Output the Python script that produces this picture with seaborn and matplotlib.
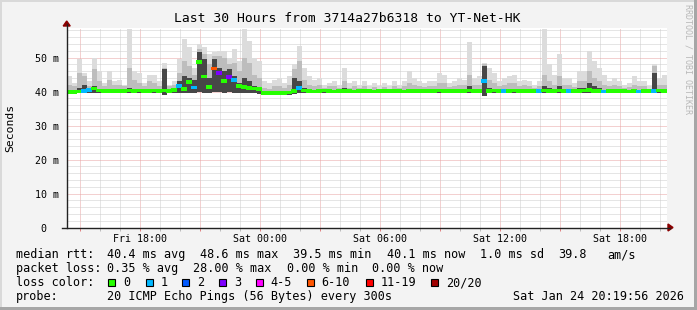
import numpy as np
import pandas as pd
import matplotlib
matplotlib.use("Agg")
import matplotlib.pyplot as plt
import matplotlib.dates as mdates
from matplotlib.ticker import MultipleLocator, FuncFormatter
from matplotlib.patches import Polygon, Rectangle
from matplotlib.path import Path
import seaborn as sns

# ---------------- data (15-minute steps, 30 hours) ----------------
start_time = "2026-01-23 14:20"
n_steps = 120

median_ms = [
    39.9, 39.9, 40.0, 40.1, 40.4, 40.9, 40.3, 40.1, 40.2, 40.2,
    40.1, 40.2, 40.3, 40.2, 40.3, 40.2, 40.2, 40.3, 40.2, 40.3,
    40.1, 40.4, 41.6, 40.8, 42.8, 41.2, 48.6, 44.4, 41.4, 46.8,
    45.5, 43.0, 44.2, 43.4, 41.6, 41.3, 41.0, 40.9, 40.8, 39.6,
    39.5, 39.5, 39.6, 39.5, 39.7, 40.2, 41.0, 40.3, 40.2, 40.0,
    40.1, 40.3, 40.1, 40.0, 40.2, 40.1, 40.1, 40.0, 40.2, 40.1,
    40.1, 40.0, 40.1, 40.2, 40.1, 40.2, 40.1, 40.0, 40.1, 40.2,
    40.1, 40.1, 40.2, 40.1, 40.3, 40.2, 40.1, 40.1, 40.2, 40.1,
    40.3, 40.2, 40.1, 43.0, 40.1, 40.3, 40.2, 40.1, 40.2, 40.3,
    40.2, 40.1, 40.2, 40.1, 40.2, 40.3, 40.2, 40.1, 40.3, 40.2,
    40.2, 40.1, 40.2, 40.3, 40.4, 40.2, 40.1, 40.0, 40.1, 40.2,
    40.1, 40.1, 40.0, 40.1, 40.0, 40.1, 40.1, 40.2, 40.3, 40.1,
]

loss_count = [
    0, 0, 0, 1, 1, 0, 0, 0, 0, 0,
    0, 0, 0, 0, 0, 0, 0, 0, 0, 0,
    0, 0, 1, 0, 0, 1, 0, 0, 0, 8,
    3, 0, 3, 1, 0, 0, 0, 0, 0, 0,
    0, 0, 0, 0, 0, 0, 1, 0, 0, 0,
    0, 0, 0, 0, 0, 0, 0, 0, 0, 0,
    0, 0, 0, 0, 0, 0, 0, 0, 0, 0,
    0, 0, 0, 0, 0, 0, 0, 0, 0, 0,
    0, 0, 0, 1, 0, 0, 0, 1, 0, 0,
    0, 0, 0, 0, 1, 0, 0, 0, 0, 0,
    1, 0, 0, 0, 0, 0, 0, 1, 0, 0,
    0, 0, 0, 0, 1, 0, 0, 1, 0, 0,
]

smoke_max = [
    44.5, 42.5, 49.5, 45.5, 43.0, 50.0, 46.0, 42.5, 46.0, 43.0,
    43.5, 42.0, 58.5, 46.0, 45.5, 42.5, 45.0, 45.0, 43.0, 48.5,
    42.0, 43.0, 49.5, 55.5, 53.0, 47.0, 54.0, 53.0, 51.0, 51.5,
    52.0, 52.0, 50.0, 52.5, 49.0, 58.5, 55.0, 50.0, 49.0, 43.0,
    42.5, 43.5, 44.0, 42.5, 44.5, 48.0, 53.5, 47.0, 44.5, 43.5,
    44.0, 42.0, 42.5, 43.0, 42.0, 47.0, 42.5, 43.0, 42.0, 43.0,
    41.5, 42.5, 41.5, 42.5, 41.5, 43.0, 42.0, 43.0, 46.0, 44.0,
    43.0, 42.5, 43.0, 43.0, 45.5, 45.0, 42.5, 43.0, 44.0, 43.5,
    54.5, 44.0, 44.5, 48.5, 47.0, 45.5, 43.0, 44.0, 44.5, 45.0,
    43.0, 43.5, 43.0, 42.0, 43.0, 58.5, 48.0, 45.0, 51.0, 44.0,
    44.0, 42.5, 46.0, 46.0, 52.0, 49.0, 47.0, 45.0, 43.0, 44.0,
    43.0, 42.0, 42.5, 44.5, 43.0, 43.0, 41.5, 48.0, 44.0, 45.0,
]

smoke_mid = [
    42.0, 41.5, 45.5, 44.5, 41.5, 46.5, 43.0, 41.5, 43.5, 42.0,
    42.0, 41.5, 47.0, 43.5, 42.5, 41.5, 43.0, 42.5, 41.5, 47.0,
    41.5, 42.0, 45.5, 49.0, 47.5, 45.0, 52.5, 51.0, 48.0, 50.5,
    50.5, 50.0, 48.0, 48.5, 46.0, 50.0, 48.5, 45.0, 44.0, 41.0,
    40.8, 41.5, 41.5, 41.0, 42.0, 46.5, 49.0, 43.5, 42.0, 41.5,
    42.0, 41.0, 41.5, 41.5, 41.0, 43.0, 41.0, 41.5, 41.0, 41.5,
    40.8, 41.2, 40.8, 41.2, 40.8, 41.5, 41.0, 41.5, 42.5, 41.8,
    41.5, 41.2, 41.5, 41.5, 42.5, 42.5, 41.2, 41.5, 42.0, 41.8,
    45.0, 41.8, 42.0, 48.0, 43.5, 42.5, 41.5, 42.0, 42.5, 42.5,
    41.5, 41.8, 41.5, 41.0, 41.5, 45.0, 43.0, 42.0, 44.5, 42.0,
    42.0, 41.2, 43.0, 43.0, 46.0, 44.0, 43.0, 42.0, 41.5, 42.0,
    41.5, 41.0, 41.2, 42.0, 41.5, 41.5, 40.8, 47.5, 42.0, 42.0,
]

smoke_dark = [
    40.3, 40.3, 41.0, 42.0, 40.5, 41.5, 40.5, 40.3, 40.5, 40.4,
    40.5, 40.3, 41.0, 40.5, 40.5, 40.3, 40.6, 40.5, 40.3, 46.5,
    40.3, 40.5, 43.0, 44.5, 44.0, 43.5, 51.5, 49.5, 44.0, 49.5,
    47.0, 46.0, 46.5, 44.5, 42.5, 44.0, 43.0, 41.5, 41.0, 39.9,
    39.8, 39.9, 40.0, 39.8, 40.1, 44.0, 43.0, 41.0, 40.5, 40.3,
    40.4, 40.4, 40.3, 40.3, 40.4, 41.0, 40.3, 40.3, 40.4, 40.3,
    40.3, 40.3, 40.3, 40.4, 40.3, 40.4, 40.3, 40.3, 40.8, 40.5,
    40.4, 40.3, 40.4, 40.3, 40.8, 40.7, 40.3, 40.3, 40.6, 40.5,
    41.5, 40.5, 40.6, 47.5, 41.0, 40.6, 40.4, 40.6, 40.8, 40.7,
    40.5, 40.5, 40.4, 40.3, 40.5, 41.5, 41.0, 40.5, 41.5, 40.6,
    40.6, 40.3, 41.0, 41.0, 42.5, 41.5, 41.0, 40.4, 40.3, 40.6,
    40.4, 40.3, 40.3, 40.6, 40.3, 40.4, 40.3, 45.5, 40.6, 40.5,
]

smoke_min = [
    39.4, 39.4, 39.5, 39.5, 39.6, 39.6, 39.5, 39.5, 39.5, 39.5,
    39.5, 39.5, 39.5, 39.5, 39.5, 39.5, 39.5, 39.5, 39.5, 39.0,
    39.5, 39.5, 39.6, 39.6, 39.7, 39.6, 39.8, 39.6, 39.5, 39.8,
    39.8, 39.7, 39.8, 39.6, 39.5, 39.5, 39.5, 39.5, 39.4, 38.9,
    38.9, 38.9, 38.9, 38.9, 39.0, 39.3, 39.5, 39.5, 39.5, 39.5,
    39.5, 39.5, 39.5, 39.5, 39.5, 39.5, 39.5, 39.5, 39.5, 39.5,
    39.5, 39.5, 39.5, 39.5, 39.5, 39.5, 39.5, 39.5, 39.5, 39.5,
    39.5, 39.5, 39.5, 39.5, 39.5, 39.5, 39.5, 39.5, 39.5, 39.5,
    39.5, 39.5, 39.5, 38.8, 39.5, 39.5, 39.5, 39.5, 39.5, 39.5,
    39.5, 39.5, 39.5, 39.5, 39.5, 39.5, 39.5, 39.5, 39.5, 39.5,
    39.5, 39.5, 39.5, 39.5, 39.5, 39.5, 39.5, 39.5, 39.5, 39.5,
    39.5, 39.5, 39.5, 39.5, 39.5, 39.5, 39.5, 39.5, 39.5, 39.5,
]

loss_labels = ["0", "1", "2", "3", "4-5", "6-10", "11-19", "20/20"]
loss_colors = ["#26ff00", "#00b8ff", "#0059ff", "#7e00ff", "#ff00ff",
               "#ff5500", "#ff0000", "#a10000"]

title = "Last 30 Hours from 3714a27b6318 to YT-Net-HK"
rtt_items = ["median rtt:", "40.4 ms avg", "48.6 ms max", "39.5 ms min",
             "40.1 ms now", "1.0 ms sd", "39.8", "am/s"]
loss_items = ["packet loss:", "0.35 % avg", "28.00 % max", "0.00 % min", "0.00 % now"]
probe_text = "20 ICMP Echo Pings (56 Bytes) every 300s"
stamp_text = "Sat Jan 24 20:19:56 2026"

# ---------------- figure ----------------
W, H = 697, 310
BG = "#f3f3f3"
plt.rcParams["font.family"] = ["DejaVu Sans Mono"]

fig = plt.figure(figsize=(W / 100, H / 100), dpi=100, facecolor=BG)

def fx(x):
    return x / W

def fy(y):
    return 1 - y / H

L, R, T, B = 66.7, 666.7, 28.0, 227.5
ax = fig.add_axes([fx(L), fy(B), (R - L) / W, (B - T) / H])
ax.set_facecolor("white")

edges = pd.date_range(start_time, periods=n_steps + 1, freq="15min")
mids = edges[:-1] + pd.Timedelta(minutes=7.5)

def ext(a):
    return np.append(np.asarray(a, float), a[-1])

# smoke layers
ax.fill_between(edges, ext(smoke_min), ext(smoke_max), step="post",
                color="#dcdcdc", linewidth=0, zorder=2)
ax.fill_between(edges, ext(smoke_min), ext(smoke_mid), step="post",
                color="#bdbdbd", linewidth=0, zorder=3)
ax.fill_between(edges, ext(smoke_min), ext(smoke_dark), step="post",
                color="#474747", linewidth=0, zorder=4)

# median, coloured by packet loss, drawn as short horizontal strokes
def loss_class(n):
    if n <= 3:
        return loss_labels[n]
    if n <= 5:
        return "4-5"
    if n <= 10:
        return "6-10"
    if n <= 19:
        return "11-19"
    return "20/20"

stroke = Path([(-1, -0.62), (1, -0.62), (1, 0.62), (-1, 0.62), (-1, -0.62)],
              [Path.MOVETO, Path.LINETO, Path.LINETO, Path.LINETO, Path.CLOSEPOLY])
pts = pd.DataFrame({"time": mids, "median": median_ms,
                    "loss": [loss_class(n) for n in loss_count]})
sns.scatterplot(data=pts, x="time", y="median", hue="loss",
                palette=dict(zip(loss_labels, loss_colors)),
                hue_order=loss_labels, marker=stroke, s=19, linewidth=0,
                ax=ax, legend=False, zorder=6)

# axes limits and grid
ax.set_xlim(edges[0], edges[-1])
ax.set_ylim(0, (B - T) / 3.4)
ax.set_xlabel("")
ax.set_ylabel("")
for s in ax.spines.values():
    s.set_visible(False)

ax.xaxis.set_major_locator(mdates.HourLocator(byhour=range(0, 24, 3)))
ax.xaxis.set_minor_locator(mdates.HourLocator(interval=1))

def xfmt(v, pos):
    d = mdates.num2date(v)
    return d.strftime("%a %H:%M") if d.hour % 6 == 0 else ""

ax.xaxis.set_major_formatter(FuncFormatter(xfmt))
ax.yaxis.set_major_locator(MultipleLocator(10))
ax.yaxis.set_minor_locator(MultipleLocator(2))
ax.yaxis.set_major_formatter(FuncFormatter(lambda v, p: "0  " if v == 0 else f"{v:.0f} m"))

ax.set_axisbelow(True)
dots = (0, (1, 1))
ax.grid(which="minor", color="#cccccc", linestyle=dots, linewidth=0.72, zorder=0)
ax.grid(which="major", color="#e8a3a3", linestyle=dots, linewidth=0.72, zorder=1)

ax.tick_params(axis="x", which="major", length=2.5, width=0.7, color="#e08080",
               pad=2.5, labelsize=7.2)
ax.tick_params(axis="x", which="minor", length=2.0, width=0.7, color="#bbbbbb")
ax.tick_params(axis="y", which="both", length=0, pad=5.4, labelsize=7.2)

# axis lines and arrows
fig.add_artist(plt.Line2D([fx(L), fx(L)], [fy(B + 0.5), fy(24)], color="#222222",
                          linewidth=1.0))
fig.add_artist(plt.Line2D([fx(62), fx(670)], [fy(B), fy(B)], color="#222222",
                          linewidth=1.0))
fig.add_artist(Polygon([[fx(L - 3.5), fy(26)], [fx(L + 3.5), fy(26)], [fx(L), fy(21)]],
                       closed=True, color="#8b0000", transform=fig.transFigure))
fig.add_artist(Polygon([[fx(668), fy(B - 3.5)], [fx(668), fy(B + 3.5)], [fx(673), fy(B)]],
                       closed=True, color="#8b0000", transform=fig.transFigure))

# texts
fig.text(fx(347.5), fy(19), title, ha="center", va="center", fontsize=9.4)
fig.text(fx(10), fy(127.5), "Seconds", rotation=90, ha="center", va="center",
         fontsize=8.2)
fig.text(fx(688), fy(4), "RRDTOOL / TOBI OETIKER", rotation=270, ha="center",
         va="top", fontsize=6.0, color="#b8b8b8")

FS = 8.5
rtt_x = [16, 107.3, 200, 293.3, 387, 480, 558.3, 607.3]
for t, x in zip(rtt_items, rtt_x):
    fig.text(fx(x), fy(254.5), t, ha="left", va="center", fontsize=FS)
loss_x = [16, 107.3, 193.3, 286.7, 371.7]
for t, x in zip(loss_items, loss_x):
    fig.text(fx(x), fy(268.5), t, ha="left", va="center", fontsize=FS)

fig.text(fx(16), fy(282.5), "loss color:", ha="left", va="center", fontsize=FS)
sq_x = [108.3, 145.7, 182.3, 219.0, 255.7, 306.7, 365.5, 431.0]
for lab, col, x in zip(loss_labels, loss_colors, sq_x):
    fig.add_artist(Rectangle((fx(x), fy(286)), 7 / W, 7 / H, facecolor=col,
                             edgecolor="black", linewidth=0.8,
                             transform=fig.transFigure))
    fig.text(fx(x + 15), fy(282.5), lab, ha="left", va="center", fontsize=FS)

fig.text(fx(16), fy(296.5), "probe:", ha="left", va="center", fontsize=FS)
fig.text(fx(107.3), fy(296.5), probe_text, ha="left", va="center", fontsize=FS)
fig.text(fx(513.3), fy(296.5), stamp_text, ha="left", va="center", fontsize=FS)

# image frame
fig.add_artist(Rectangle((0, fy(2)), 1, 2 / H, color="#d9d9d9", transform=fig.transFigure, linewidth=0))
fig.add_artist(Rectangle((0, 0), 2 / W, 1, color="#d9d9d9", transform=fig.transFigure, linewidth=0))
fig.add_artist(Rectangle((fx(694), 0), 3 / W, 1, color="#a6a6a6", transform=fig.transFigure, linewidth=0))
fig.add_artist(Rectangle((0, 0), 1, 3 / H, color="#a6a6a6", transform=fig.transFigure, linewidth=0))

fig.savefig("out.png", dpi=100, facecolor=BG)
